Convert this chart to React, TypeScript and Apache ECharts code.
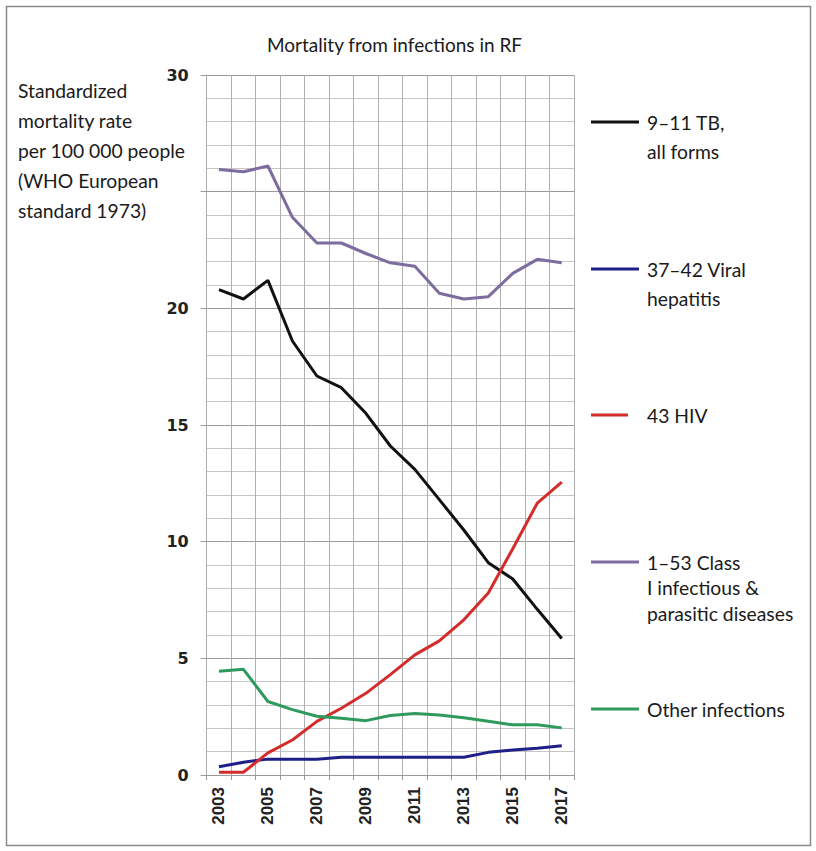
import React, { useEffect, useRef } from "react";
import * as echarts from "echarts";

const years = ["2003", "2004", "2005", "2006", "2007", "2008", "2009", "2010", "2011", "2012", "2013", "2014", "2015", "2016", "2017"];
const tb = [20.8, 20.4, 21.2, 18.6, 17.1, 16.6, 15.5, 14.1, 13.1, 11.8, 10.5, 9.1, 8.4, 7.1, 5.85];
const hepatitis = [0.35, 0.55, 0.68, 0.68, 0.68, 0.76, 0.76, 0.76, 0.76, 0.76, 0.76, 0.97, 1.07, 1.15, 1.25];
const hiv = [0.12, 0.12, 0.95, 1.5, 2.3, 2.86, 3.5, 4.3, 5.15, 5.75, 6.65, 7.8, 9.7, 11.65, 12.55];
const classI = [25.95, 25.85, 26.1, 23.9, 22.8, 22.8, 22.35, 21.95, 21.8, 20.65, 20.4, 20.5, 21.5, 22.1, 21.95];
const other = [4.45, 4.53, 3.15, 2.8, 2.52, 2.43, 2.33, 2.55, 2.64, 2.57, 2.45, 2.3, 2.15, 2.15, 2.02];

const seriesNames = ["9–11 TB, all forms", "37–42 Viral hepatitis", "43 HIV", "1–53 Class I infectious & parasitic diseases", "Other infections"];
const legendLines = [["9–11 TB,", "all forms"], ["37–42 Viral", "hepatitis"], ["43 HIV"], ["1–53 Class", "I infectious &", "parasitic diseases"], ["Other infections"]];
const seriesColors = ["#111111", "#1f1f8a", "#d42b2b", "#7d6c9e", "#2f9a5e"];
const yAxisTitle = ["Standardized", "mortality rate", "per 100 000 people", "(WHO European", "standard 1973)"];
const titleText = "Mortality from infections in RF";

const TEXT_FONT = "Lato, 'Open Sans', sans-serif";

export default function App() {
  const ref = useRef<HTMLDivElement>(null);
  useEffect(() => {
    if (!ref.current) return;
    const chart = echarts.init(ref.current, undefined, { renderer: "svg" });
    const dataSets = [tb, hepatitis, hiv, classI, other];
    const legendY = [122, 269, 415, 562, 709];
    const legendLineH = [29, 29, 29, 25.5, 26];
    const graphic: any[] = [
      {
        type: "rect",
        shape: { x: 6.5, y: 6.5, width: 804, height: 839 },
        style: { fill: "none", stroke: "#8a8a8a", lineWidth: 1.5 },
        silent: true,
      },
      {
        type: "text",
        x: 18,
        y: 75,
        style: {
          text: yAxisTitle.join("\n"),
          font: `19.3px ${TEXT_FONT}`,
          lineHeight: 30,
          fill: "#1a1a1a",
          verticalAlign: "top",
        },
      },
    ];
    legendLines.forEach((lines, i) => {
      graphic.push({
        type: "line",
        shape: { x1: 591, y1: legendY[i], x2: i === 2 ? 628 : 639, y2: legendY[i] },
        style: { stroke: seriesColors[i], lineWidth: 3 },
      });
      graphic.push({
        type: "text",
        x: 647,
        y: legendY[i] - legendLineH[i] / 2,
        style: {
          text: lines.join("\n"),
          font: `19.3px ${TEXT_FONT}`,
          lineHeight: legendLineH[i],
          fill: "#1a1a1a",
          verticalAlign: "top",
        },
      });
    });
    chart.setOption({
      animation: false,
      backgroundColor: "#ffffff",
      title: {
        text: titleText,
        left: 262,
        top: 30,
        textStyle: { fontFamily: TEXT_FONT, fontSize: 19, fontWeight: "normal", color: "#1a1a1a" },
      },
      grid: { left: 206.7, right: 242, top: 75, bottom: 76, containLabel: false },
      xAxis: {
        type: "category",
        data: years,
        boundaryGap: true,
        axisLine: { show: true, lineStyle: { color: "#9a9a9a", width: 1 } },
        axisTick: { show: true, length: 5, interval: 0, lineStyle: { color: "#9a9a9a" } },
        splitLine: { show: true, interval: 0, lineStyle: { color: "#b0b0b0", width: 1 } },
        axisLabel: {
          interval: 1,
          rotate: 90,
          margin: 12,
          fontFamily: "'Liberation Sans Narrow', 'Liberation Sans', Arial, sans-serif",
          fontWeight: "bold",
          fontSize: 17,
          color: "#222",
        },
      },
      yAxis: {
        type: "value",
        min: 0,
        max: 30,
        interval: 5,
        axisLine: { show: true, lineStyle: { color: "#b0b0b0" } },
        axisTick: { show: true, length: 6, lineStyle: { color: "#9a9a9a" } },
        splitLine: { show: true, lineStyle: { color: "#9a9a9a", width: 1 } },
        minorTick: { show: false, splitNumber: 5 },
        minorSplitLine: { show: true, lineStyle: { color: "#c6c6c6", width: 1 } },
        axisLabel: {
          margin: 18,
          fontFamily: "'DejaVu Sans', sans-serif",
          fontWeight: "bold",
          fontSize: 16,
          color: "#222",
          formatter: (v: number) => (v === 25 ? "" : String(v)),
        },
      },
      graphic,
      series: dataSets.map((d, i) => ({
        name: seriesNames[i],
        type: "line",
        data: d,
        symbol: "none",
        smooth: false,
        lineStyle: { color: seriesColors[i], width: 3 },
        itemStyle: { color: seriesColors[i] },
        z: 3 + i,
      })),
    });
    return () => chart.dispose();
  }, []);
  return <div ref={ref} style={{ position: "absolute", left: 0, top: 0, width: 816, height: 851 }} />;
}
